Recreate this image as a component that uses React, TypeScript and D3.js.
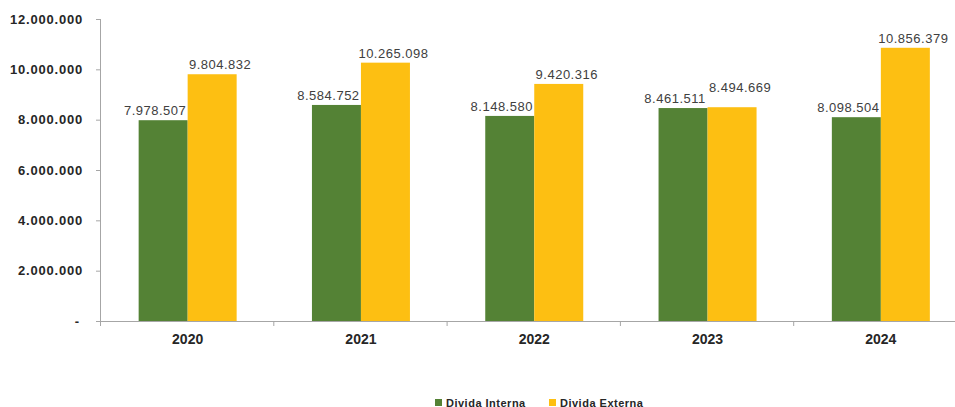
import React from "react";
import * as d3 from "d3";

const years = ["2020", "2021", "2022", "2023", "2024"];
const dividaInterna = [7978507, 8584752, 8148580, 8461511, 8098504];
const dividaExterna = [9804832, 10265098, 9420316, 8494669, 10856379];
const yTicks = [0, 2000000, 4000000, 6000000, 8000000, 10000000, 12000000];
const seriesNames = ["Divida Interna", "Divida Externa"];
const seriesColors = ["#548235", "#FDBF12"];

const W = 955;
const H = 407;

const fmt = (v: number) => {
  if (v === 0) return "-";
  return d3.format(",")(v).replace(/,/g, ".");
};

export default function App() {
  const x = d3.scaleBand<string>().domain(years).range([101, 967.5]).paddingInner(0).paddingOuter(0);
  const y = d3.scaleLinear().domain([0, 12000000]).range([321, 19]);
  const groupW = 98;
  const barW = groupW / 2;
  const series = [dividaInterna, dividaExterna];

  const labels: React.ReactNode[] = [];
  years.forEach((yr, i) => {
    const cx = (x(yr) as number) + x.bandwidth() / 2;
    const yi = y(dividaInterna[i]) - 5;
    let ye = y(dividaExterna[i]) - 5;
    if (Math.abs(yi - ye) < 14) ye = Math.min(ye, yi) - 10;
    labels.push(
      <text key={"li" + yr} x={cx - barW / 2 - 8} y={yi} textAnchor="middle" fontSize={13} letterSpacing={0.5} fill="#404040" fontFamily="Liberation Sans, Arial, sans-serif">
        {fmt(dividaInterna[i])}
      </text>,
      <text key={"le" + yr} x={cx + barW / 2 + 8} y={ye} textAnchor="middle" fontSize={13} letterSpacing={0.5} fill="#404040" fontFamily="Liberation Sans, Arial, sans-serif">
        {fmt(dividaExterna[i])}
      </text>
    );
  });

  return (
    <svg width={W} height={H} style={{ position: "absolute", left: 0, top: 0, background: "#fff" }} fontFamily="Liberation Sans, Arial, sans-serif">
      {series.map((vals, s) =>
        years.map((yr, i) => {
          const cx = (x(yr) as number) + x.bandwidth() / 2;
          const bx = cx - groupW / 2 + s * barW;
          return (
            <rect key={s + yr} x={bx} y={y(vals[i])} width={barW} height={y(0) - y(vals[i])} fill={seriesColors[s]} />
          );
        })
      )}
      <line x1={100.5} x2={100.5} y1={y(12000000)} y2={y(0)} stroke="#a6a6a6" strokeWidth={1} />
      {yTicks.map((t) => (
        <g key={t}>
          <line x1={96} x2={100.5} y1={y(t) + 0.5} y2={y(t) + 0.5} stroke="#a6a6a6" />
          <text x={t === 0 ? 80 : 83} y={y(t) + 4.5} textAnchor="end" fontSize={13} fontWeight="bold" letterSpacing={0.8} fill="#262626">
            {fmt(t)}
          </text>
        </g>
      ))}
      <line x1={96} x2={W} y1={y(0) + 0.5} y2={y(0) + 0.5} stroke="#a6a6a6" />
      {years.map((yr) => (
        <line key={"t" + yr} x1={(x(yr) as number) - 0.5} x2={(x(yr) as number) - 0.5} y1={y(0)} y2={y(0) + 5} stroke="#a6a6a6" />
      ))}
      {years.map((yr) => (
        <text key={"xl" + yr} x={(x(yr) as number) + x.bandwidth() / 2} y={344} textAnchor="middle" fontSize={14} fontWeight="bold" fill="#262626">
          {yr}
        </text>
      ))}
      {labels}
      {seriesNames.map((n, s) => {
        const lx = s === 0 ? 435 : 549;
        return (
          <g key={n}>
            <rect x={lx} y={399} width={7} height={7} fill={seriesColors[s]} />
            <text x={lx + 11} y={406.5} fontSize={11} fontWeight="bold" letterSpacing={0.5} fill="#262626">
              {n}
            </text>
          </g>
        );
      })}
    </svg>
  );
}
